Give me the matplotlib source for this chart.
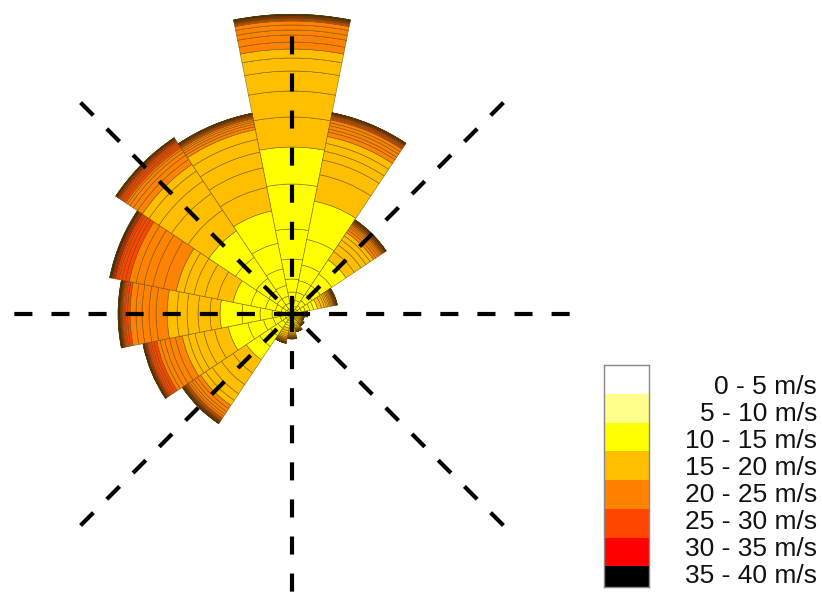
import numpy as np
import matplotlib
matplotlib.use('Agg')
import matplotlib.pyplot as plt

plt.rcParams['font.family'] = ['Liberation Sans', 'DejaVu Sans']
plt.rcParams['lines.scale_dashes'] = False

# ---------------- data ----------------
directions = ['N', 'NNE', 'NE', 'ENE', 'E', 'ESE', 'SE', 'SSE',
              'S', 'SSW', 'SW', 'WSW', 'W', 'WNW', 'NW', 'NNW']
bearings = [0, 22.5, 45, 67.5, 90, 112.5, 135, 157.5,
            180, 202.5, 225, 247.5, 270, 292.5, 315, 337.5]

bin_labels = ['0 - 5 m/s', '5 - 10 m/s', '10 - 15 m/s', '15 - 20 m/s',
              '20 - 25 m/s', '25 - 30 m/s', '30 - 35 m/s', '35 - 40 m/s']
bin_colors = ['#ffffff', '#ffff8c', '#ffff00', '#ffbe00',
              '#ff8200', '#ff4600', '#ff0000', '#000000']

# legend bin of every 1 m/s ring (inner to outer)
ring_bins = [2] * 8 + [3] * 5 + [4] * 5 + [5] * 5 + [6] * 5 + [7] * 5

# frequency (per mille) of each ring, per direction sector
freq_N = [3.5, 3, 4.5, 6.5, 10, 15, 22.5, 18.5, 15, 13, 10, 6.5, 4.5,
          3.5, 3.5, 2.5, 2.5, 2, .6, .45, .35, .25, .2,
          .3, .25, .2, .15, .1, .2, .15, .1, .05, .05]
freq_NNE = [2, 2, 3, 4, 6, 8, 13, 19.5, 13.5, 7.5, 4.5, 4, 3.5,
            2.25, 1.5, 1.75, 1.5, 1.5, .6, .5, .45, .4, .3,
            .3, .25, .2, .15, .1, .15, .1, .05, .05, .03]
freq_NE = [1.5, 1.5, 2, 3, 4, 5, 7, 8.5, 5, 4, 3, 2.5, 2,
           1.5, 1.25, 1, .75, .5, .5, .4, .3, .25, .2,
           .25, .2, .15, .1, .05, .1, .05, .05, .03, .02]
freq_ENE = [1, 1, 1.25, 1.5, 2, 2.25, 2, 2, 2, 1.5, 1, .75, .75,
            .75, .6, .5, .4, .25, .3, .25, .2, .15, .1,
            .15, .1, .1, .05, .05, .05, .05, .03, .02, 0]
freq_E = [.4, .4, .4, .5, .5, .6, .6, .6, .75, .6, .5, .4, .3,
          .25, .2, .15, .15, .1, .1, .05, .05, .05, .03,
          .03, .02, .02, .01, .01, 0, 0, 0, 0, 0]
freq_ESE = [.3, .3, .35, .4, .45, .5, .5, .5, .6, .5, .4, .3, .25,
            .2, .15, .12, .1, .08, .06, .05, .04, .03, .02,
            .02, .01, .01, .01, 0, 0, 0, 0, 0, 0]
freq_SE = [.35, .35, .4, .45, .5, .55, .6, .6, .7, .55, .45, .35, .3,
           .25, .2, .15, .12, .1, .08, .06, .05, .04, .03,
           .02, .02, .01, .01, 0, 0, 0, 0, 0, 0]
freq_SSE = [.4, .4, .5, .55, .6, .7, .75, .8, .9, .7, .55, .45, .35,
            .3, .25, .2, .15, .12, .1, .08, .06, .05, .04,
            .03, .02, .02, .01, .01, .01, 0, 0, 0, 0]
freq_S = [.5, .5, .6, .7, .8, .9, 1, 1.1, 1.3, 1, .8, .6, .5,
          .4, .35, .3, .25, .2, .15, .12, .1, .08, .06,
          .04, .03, .02, .02, .01, .01, .01, 0, 0, 0]
freq_SSW = [.6, .6, .7, .8, .9, 1.1, 1.2, 1.3, 1.5, 1.2, 1, .8, .6,
            .5, .4, .35, .3, .25, .2, .15, .12, .1, .08,
            .05, .04, .03, .02, .01, .01, .01, 0, 0, 0]
freq_SW = [1, 1, 1.5, 2, 3, 4.5, 6.5, 8, 8, 7, 5.5, 4, 3,
           2, 1.75, 1.5, 1.25, 1, .6, .5, .4, .3, .2,
           .3, .25, .2, .15, .1, .15, .1, .1, .1, .05]
freq_WSW = [1, 1, 1.5, 2.5, 3.5, 5, 8, 10, 7, 5.5, 4.5, 3.5, 3,
            3.5, 3, 2.5, 2.25, 1.75, 1.5, 1.25, 1, .75, .5,
            .5, .4, .3, .2, .1, .2, .15, .1, .05, .03]
freq_W = [1, 1, 1.5, 2.5, 4, 6, 9, 11, 5, 6, 5.5, 5, 5,
          5.5, 3.5, 3.5, 3, 3, 1.25, 1, .75, .6, .4,
          .4, .3, .25, .2, .1, .25, .2, .15, .1, .05]
freq_WNW = [1, 1, 1.5, 2, 3, 5, 7.5, 9, 8, 6.5, 5.5, 5, 4,
            6.5, 5.5, 4.5, 4, 3.5, 2, 1.75, 1.5, 1, .75,
            .6, .5, .4, .3, .2, .3, .25, .2, .15, .1]
freq_NW = [1.5, 1.5, 2.5, 3.5, 5, 7.5, 12.5, 16, 12.5, 10, 7.5, 6, 4,
           3, 2.5, 2, 1.5, 1, 1.25, 1, .75, .6, .4,
           .5, .4, .3, .2, .1, .2, .15, .1, .05, .03]
freq_NNW = [1.5, 1.5, 2.5, 3.5, 5.5, 8.5, 13, 16.5, 12, 10, 8, 6.5, 5,
            1.5, 1.25, 1.1, .9, .75, .5, .45, .35, .25, .2,
            .25, .2, .15, .1, .05, .15, .1, .05, .03, .02]

sector_freqs = [freq_N, freq_NNE, freq_NE, freq_ENE, freq_E, freq_ESE,
                freq_SE, freq_SSE, freq_S, freq_SSW, freq_SW, freq_WSW,
                freq_W, freq_WNW, freq_NW, freq_NNW]

# ---------------- figure ----------------
W, H = 822, 597
fig = plt.figure(figsize=(W / 100, H / 100), dpi=100)

cx, cy = 292, H - 314      # rose centre in pixels
R_px = 305                 # axes radius in pixels
r_max = 152.5              # per mille at the axes edge

ax = fig.add_axes([(cx - R_px) / W, (cy - R_px) / H, 2 * R_px / W, 2 * R_px / H],
                  projection='polar')
ax.set_theta_zero_location('N')
ax.set_theta_direction(-1)
ax.set_ylim(0, r_max)
ax.set_rorigin(0)
ax.set_axis_off()

edge = (0.32, 0.24, 0.0, 0.7)
sector_width = np.deg2rad(22.5)
for b_deg, freqs in zip(bearings, sector_freqs):
    th = np.deg2rad(b_deg)
    heights, bottoms, colors = [], [], []
    acc = 0.0
    for v, bi in zip(freqs, ring_bins):
        if v > 0:
            heights.append(v)
            bottoms.append(acc)
            colors.append(bin_colors[bi])
        acc += v
    ax.bar([th] * len(heights), heights, width=sector_width, bottom=bottoms,
           color=colors, edgecolor=edge, linewidth=0.4, align='center', zorder=2)

# dashed direction lines
dash = (0, (13, 13.7))
for ang in [0, 90, 180, 270]:
    th = np.deg2rad(ang)
    ax.plot([th, th], [0, 142.5], color='black', lw=3, linestyle=dash,
            dash_capstyle='butt', zorder=5)
for ang in [45, 135, 225, 315]:
    th = np.deg2rad(ang)
    ax.plot([th, th], [149.5, 0], color='black', lw=3, linestyle=dash,
            dash_capstyle='butt', zorder=5)

# ---------------- legend ----------------
lx0, lx1 = 604, 649
ly_top, ly_bot = 365, 587
lax = fig.add_axes([lx0 / W, (H - ly_bot) / H, (lx1 - lx0) / W, (ly_bot - ly_top) / H])
for i, c in enumerate(bin_colors):
    lax.bar(0, 1, bottom=i, width=1, color=c, edgecolor='none')
lax.set_xlim(-0.5, 0.5)
lax.set_ylim(7.72, 0)
lax.set_xticks([])
lax.set_yticks([])
for s in lax.spines.values():
    s.set_color('#888888')
    s.set_linewidth(1.0)

for i, lab in enumerate(bin_labels):
    y_px = 393.5 + i * 27.14
    fig.text(817 / W, (H - y_px) / H, lab, ha='right', va='baseline',
             fontsize=19, color='#111111')

fig.savefig('out.png', dpi=100)
